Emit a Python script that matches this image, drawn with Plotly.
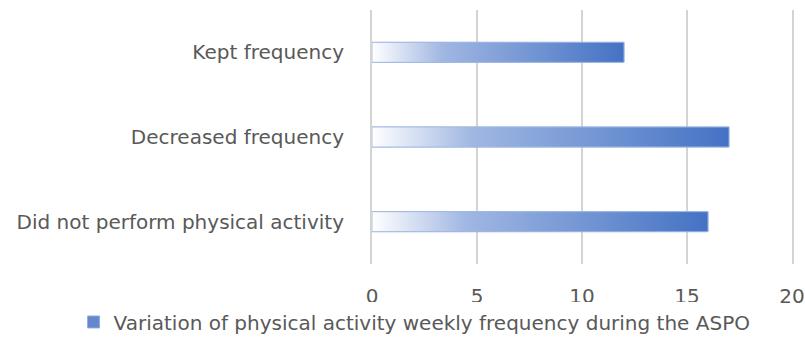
import plotly.graph_objects as go

categories = ["Did not perform physical activity", "Decreased frequency", "Kept frequency"]
values = [16, 17, 12]
series_name = "Variation of physical activity weekly frequency during the ASPO"
x_ticks = [0, 5, 10, 15, 20]

BAR_HALF = 0.118
FONT = "DejaVu Sans, sans-serif"
FS = 20
TXT = "#595959"
GRID = "#d4d4d4"
grad = [[0, "rgba(255,255,255,1)"], [0.28, "rgb(160,183,226)"], [1, "rgb(68,114,196)"]]
ypos = list(range(len(categories)))

fig = go.Figure()
fig.add_trace(go.Bar(
    x=values, y=ypos, orientation="h", width=2 * BAR_HALF,
    marker=dict(color="rgb(100,135,205)", line=dict(color="rgba(143,170,220,0.9)", width=1)),
    name=series_name, hovertext=categories, hoverinfo="text+x",
))
for i, (c, v) in enumerate(zip(categories, values)):
    fig.add_trace(go.Scatter(
        x=[0, v, v, 0, 0],
        y=[i - BAR_HALF, i - BAR_HALF, i + BAR_HALF, i + BAR_HALF, i - BAR_HALF],
        mode="lines", fill="toself",
        line=dict(color="rgba(160,185,228,0.9)", width=1),
        fillgradient=dict(type="horizontal", colorscale=grad, start=0, stop=v),
        showlegend=False, hoverinfo="skip",
    ))

fig.update_layout(
    width=805, height=363,
    margin=dict(l=372, r=13, t=10, b=99),
    paper_bgcolor="white", plot_bgcolor="white",
    font=dict(family=FONT, size=FS, color=TXT),
    xaxis=dict(range=[0, 20], tickvals=x_ticks, showgrid=True, gridcolor=GRID,
               gridwidth=2, zeroline=False, showline=False, ticks="", automargin=False,
               ticklabelstandoff=18, tickfont=dict(size=FS, color=TXT)),
    yaxis=dict(range=[-0.5, 2.5], tickvals=ypos, ticktext=categories, automargin=False,
               showgrid=False, zeroline=False, showline=True, mirror=True,
               linecolor=GRID, linewidth=2, ticks="outside",
               ticklen=22, tickcolor="rgba(0,0,0,0)", tickfont=dict(size=FS, color=TXT)),
    legend=dict(orientation="h", x=0.515, xanchor="center", xref="container",
                y=0.113, yanchor="middle", yref="container",
                font=dict(size=FS, color=TXT), itemwidth=30),
    showlegend=True,
)
fig.write_html("out.html")
